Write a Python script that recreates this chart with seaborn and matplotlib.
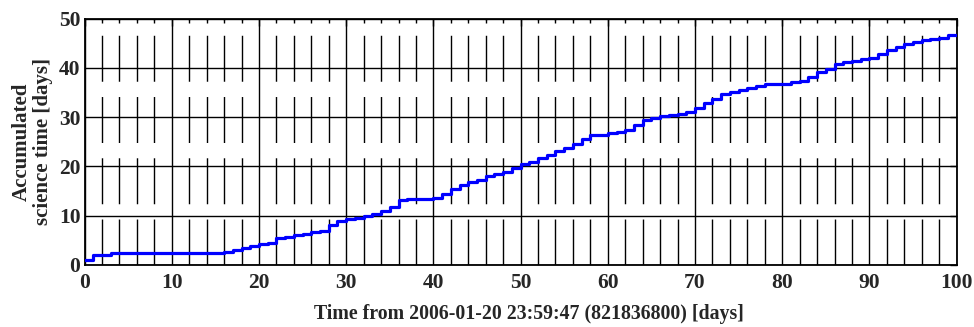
import numpy as np
import pandas as pd
import seaborn as sns
import matplotlib.pyplot as plt
from matplotlib.ticker import MultipleLocator

# accumulated science time, one value per day (value held from day k to k+1)
day = list(range(0, 101))
accum = [1.0, 2.0, 2.0,
         2.37, 2.37, 2.37, 2.37, 2.37, 2.37, 2.37, 2.37, 2.37, 2.37, 2.37, 2.37, 2.37,
         2.7, 3.1, 3.45, 3.85, 4.2, 4.4, 5.4, 5.75, 6.1, 6.35,
         6.6, 6.9, 8.0, 8.9, 9.3, 9.6, 9.9, 10.35, 10.95, 11.8,
         13.1, 13.4, 13.4, 13.4, 13.65, 14.3, 15.4, 16.2, 16.8, 17.3,
         18.0, 18.4, 18.9, 19.6, 20.4, 20.95, 21.6, 22.3, 23.1, 23.7,
         24.5, 25.6, 26.3, 26.4, 26.7, 27.0, 27.4, 28.3, 29.4, 29.9,
         30.3, 30.4, 30.6, 31.0, 31.9, 32.8, 33.6, 34.6, 35.0, 35.4,
         35.8, 36.4, 36.65, 36.65, 36.65, 37.05, 37.3, 38.1, 39.2, 39.7,
         40.7, 41.1, 41.4, 41.7, 42.05, 42.7, 43.6, 44.3, 44.8, 45.3,
         45.6, 45.8, 46.1, 46.65]
accum = accum + [accum[-1]]  # hold last value up to day 100

df = pd.DataFrame({'day': day, 'accum': accum})

sns.set_style('white')
plt.rcParams['font.family'] = ['Liberation Serif', 'DejaVu Serif']
plt.rcParams['font.weight'] = 'bold'
plt.rcParams['axes.labelweight'] = 'bold'

fig = plt.figure(figsize=(9.74, 3.27), dpi=100)
ax = fig.add_axes([0.0868, 0.190, 0.8954, 0.7534])

sns.lineplot(data=df, x='day', y='accum', ax=ax, color='#0000ff', linewidth=2.3,
             drawstyle='steps-post', estimator=None, zorder=5)

ax.set_xlim(0, 100)
ax.set_ylim(0, 50)
ax.xaxis.set_major_locator(MultipleLocator(10))
ax.xaxis.set_minor_locator(MultipleLocator(2))
ax.yaxis.set_major_locator(MultipleLocator(10))

# grid: solid at majors, long dashes at the 2-day minors
ax.grid(which='major', axis='both', color='black', linewidth=1.0, linestyle='-')
ax.grid(which='minor', axis='x', color='black', linewidth=1.0, linestyle=(0, (33.1, 11.0)))

ax.tick_params(which='both', direction='in', top=True, right=True, labelsize=15.5,
               color='black', width=1.0)
ax.tick_params(which='major', length=5, pad=3)
ax.tick_params(axis='x', which='major', pad=6)
ax.tick_params(which='minor', length=3)
for lab in ax.get_xticklabels() + ax.get_yticklabels():
    lab.set_fontweight('bold')

for s in ax.spines.values():
    s.set_color('black')
    s.set_linewidth(1.3)

ax.set_xlabel('Time from 2006-01-20 23:59:47 (821836800) [days]', fontsize=14.3)
ax.xaxis.set_label_coords(0.509, -0.16)
ax.set_ylabel('Accumulated\nscience time [days]', fontsize=15, labelpad=4, linespacing=1.1)

fig.savefig('out.png', dpi=100)
